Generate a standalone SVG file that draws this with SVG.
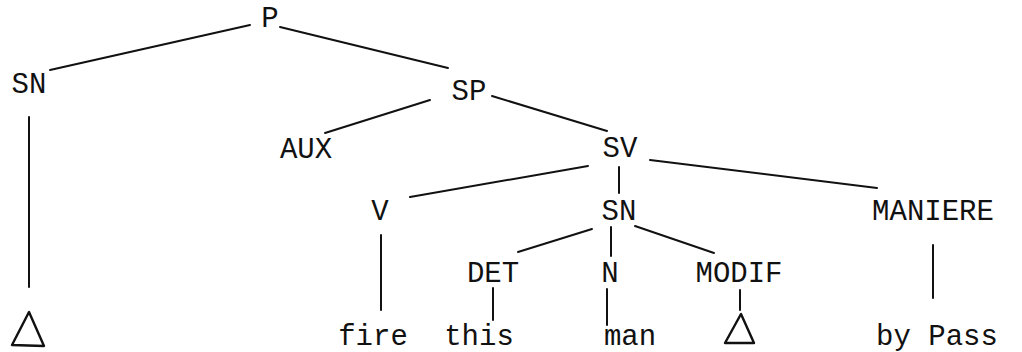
<svg xmlns="http://www.w3.org/2000/svg" width="1022" height="352" viewBox="0 0 1022 352">
<style>
.t{font-family:"Liberation Mono","Courier New",monospace;font-size:29px;fill:#111;text-anchor:middle}
.e{stroke:#111;stroke-width:2;fill:none;stroke-linecap:round}
.tri{stroke:#111;stroke-width:2.4;fill:none;stroke-linejoin:round}
</style>
<rect width="1022" height="352" fill="#fff"/>
<g id="connectors">
<line class="e" x1="250" y1="25" x2="50" y2="70"/>
<line class="e" x1="280" y1="27" x2="448" y2="68"/>
<line class="e" x1="29" y1="117" x2="29" y2="287"/>
<line class="e" x1="430" y1="100" x2="325" y2="133"/>
<line class="e" x1="492" y1="96" x2="607" y2="131"/>
<line class="e" x1="588" y1="166" x2="410" y2="197"/>
<line class="e" x1="619" y1="167" x2="619" y2="193"/>
<line class="e" x1="650" y1="160" x2="877" y2="188"/>
<line class="e" x1="592" y1="229" x2="518" y2="252"/>
<line class="e" x1="611" y1="227" x2="611" y2="256"/>
<line class="e" x1="635" y1="226" x2="714" y2="253"/>
<line class="e" x1="381" y1="235" x2="381" y2="310"/>
<line class="e" x1="493" y1="288" x2="493" y2="320"/>
<line class="e" x1="607" y1="289" x2="607" y2="325"/>
<line class="e" x1="740" y1="290" x2="740" y2="310"/>
<line class="e" x1="933" y1="245" x2="933" y2="298"/>
</g>
<g id="n-P"><text class="t" x="270" y="27">P</text></g>
<g id="n-SN1"><text class="t" x="29" y="93">SN</text></g>
<g id="n-SP"><text class="t" x="469" y="100">SP</text></g>
<g id="n-AUX"><text class="t" x="306" y="158">AUX</text></g>
<g id="n-SV"><text class="t" x="620" y="157">SV</text></g>
<g id="n-V"><text class="t" x="380" y="220">V</text></g>
<g id="n-SN2"><text class="t" x="619" y="220">SN</text></g>
<g id="n-MANIERE"><text class="t" x="933" y="220">MANIERE</text></g>
<g id="n-DET"><text class="t" x="493" y="282">DET</text></g>
<g id="n-N"><text class="t" x="610" y="282">N</text></g>
<g id="n-MODIF"><text class="t" x="739" y="282">MODIF</text></g>
<g id="n-fire"><text class="t" x="373" y="345">fire</text></g>
<g id="n-this"><text class="t" x="479" y="345">this</text></g>
<g id="n-man"><text class="t" x="630" y="345">man</text></g>
<g id="n-byPass"><text class="t" x="937" y="345">by Pass</text></g>
<g id="n-tri1"><polygon class="tri" points="29,312 12,345 44,346"/></g>
<g id="n-tri2"><polygon class="tri" points="741,314 725,343 754,343"/></g>
</svg>
